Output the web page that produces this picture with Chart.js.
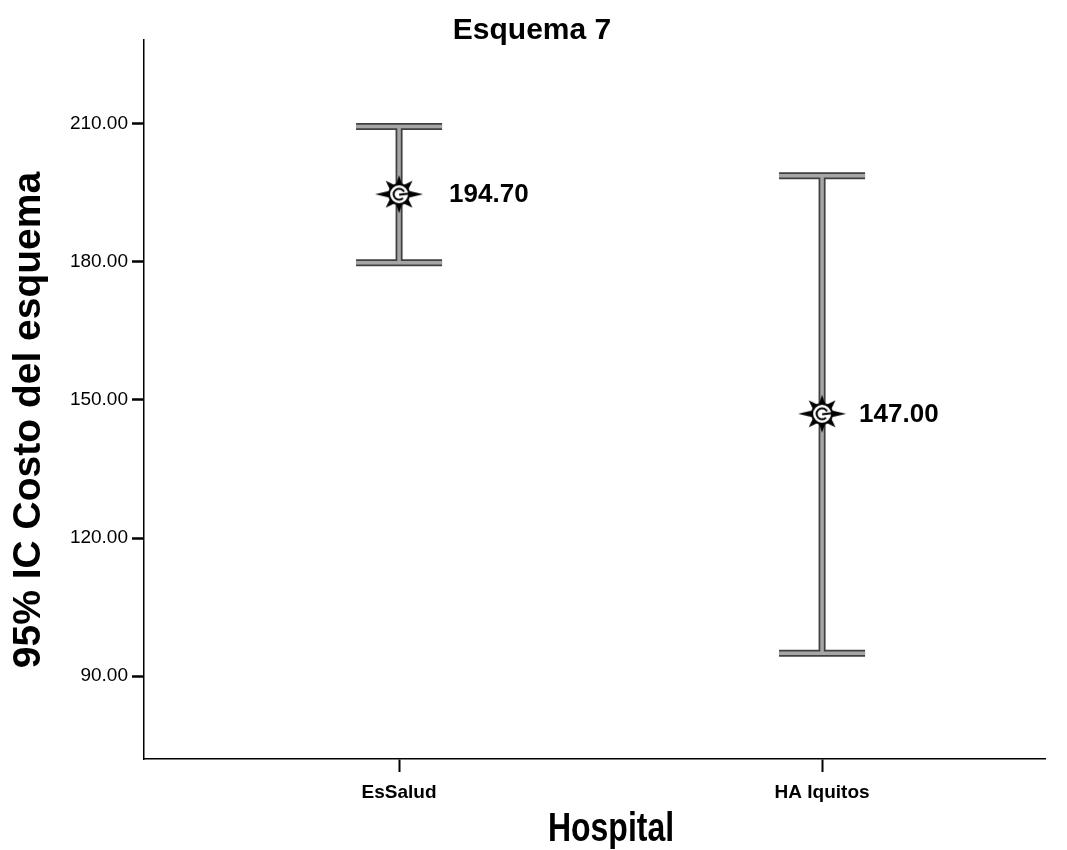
<!DOCTYPE html>
<html>
<head>
<meta charset="utf-8">
<script src="https://cdn.jsdelivr.net/npm/chart.js@4.4.1/dist/chart.umd.min.js"></script>
<style>
  html, body { margin: 0; padding: 0; background: #fff; }
  #wrap { width: 1067px; height: 850px; }
</style>
</head>
<body>
<div id="wrap"><canvas id="myChart" width="1067" height="850"></canvas></div>
<script>
// data
const categories = ["EsSalud", "HA Iquitos"]
const means = [194.70, 147.00]
const lowerCI = [179.8, 95.0]
const upperCI = [209.4, 198.7]
const yTicks = [90, 120, 150, 180, 210]

const chartTitle = "Esquema 7"
const yTitle = "95% IC Costo del esquema"
const xTitle = "Hospital"

const sans = '"Liberation Sans", Arial, sans-serif'

// starburst marker like the SPSS one
function makeMarker(){
    const c = document.createElement("canvas")
    c.width = 52
    c.height = 44
    const g = c.getContext("2d")
    const cx = 26, cy = 22
    g.fillStyle = "#000"
    for (let i = 0; i < 8; i++){
        const a = i * Math.PI / 4
        const len = (i % 4 == 0) ? 24 : 19
        const w = 0.42
        g.beginPath()
        g.moveTo(cx + Math.cos(a) * len, cy + Math.sin(a) * len)
        g.lineTo(cx + Math.cos(a + w) * 9, cy + Math.sin(a + w) * 9)
        g.lineTo(cx + Math.cos(a - w) * 9, cy + Math.sin(a - w) * 9)
        g.closePath()
        g.fill()
    }
    g.beginPath()
    g.arc(cx, cy, 10, 0, Math.PI * 2)
    g.fillStyle = "#fff"
    g.fill()
    g.lineWidth = 2
    g.strokeStyle = "#000"
    g.stroke()
    g.beginPath()
    g.arc(cx, cy, 5.5, 0.25 * Math.PI, 1.85 * Math.PI, false)
    g.lineWidth = 2
    g.stroke()
    g.beginPath()
    g.moveTo(cx, cy + 0.5)
    g.lineTo(cx + 13, cy - 1)
    g.stroke()
    return c
}

const errorBars = {
    id: "errorBars",
    beforeDatasetsDraw(chart){
        const {ctx, scales: {x, y}} = chart
        ctx.save()
        categories.forEach((cat, i) => {
            const px = x.getPixelForValue(i + 1)
            const top = y.getPixelForValue(upperCI[i])
            const bot = y.getPixelForValue(lowerCI[i])
            const half = 43
            // outer dark stroke then lighter core
            ;[["#404040", 7], ["#a6a6a6", 3.5]].forEach(([col, w]) => {
                ctx.strokeStyle = col
                ctx.lineWidth = w
                ctx.lineCap = "butt"
                ctx.beginPath()
                ctx.moveTo(px, top)
                ctx.lineTo(px, bot)
                ctx.moveTo(px - half, top)
                ctx.lineTo(px + half, top)
                ctx.moveTo(px - half, bot)
                ctx.lineTo(px + half, bot)
                ctx.stroke()
            })
        })
        ctx.restore()
    },
    afterDraw(chart){
        const {ctx, scales: {x, y}} = chart
        const labelGap = [50, 37]
        ctx.save()
        ctx.fillStyle = "#000"
        ctx.textBaseline = "middle"
        // value labels
        ctx.font = "bold 26px " + sans
        ctx.textAlign = "left"
        means.forEach((m, i) => {
            ctx.fillText(m.toFixed(2), x.getPixelForValue(i + 1) + labelGap[i], y.getPixelForValue(m) + 1)
        })
        // chart title
        ctx.textAlign = "center"
        ctx.font = "bold 30px " + sans
        ctx.fillText(chartTitle, 532, 31)
        // x title, squeezed like Arial Narrow
        ctx.save()
        ctx.translate(611, 830)
        ctx.scale(0.8, 1)
        ctx.font = "bold 40px " + sans
        ctx.fillText(xTitle, 0, 0)
        ctx.restore()
        // y title
        ctx.translate(29, 420)
        ctx.rotate(-Math.PI / 2)
        ctx.font = "bold 39px " + sans
        ctx.fillText(yTitle, 0, 0)
        ctx.restore()
    }
}

const ctx = document.getElementById("myChart")

let grafik = new Chart(ctx, {
    type: "scatter",
    data: {
        datasets: [{
            data: means.map((m, i) => ({x: i + 1, y: m})),
            pointStyle: makeMarker(),
            showLine: false
        }]
    },
    options: {
        responsive: false,
        animation: false,
        layout: {padding: {top: 40, right: 22, left: 0, bottom: 0}},
        plugins: {
            legend: {display: false},
            tooltip: {enabled: false}
        },
        scales: {
            x: {
                type: "linear",
                min: 0.397,
                max: 2.527,
                afterBuildTicks: s => { s.ticks = categories.map((c, i) => ({value: i + 1})) },
                afterFit: s => { s.height = 91 },
                ticks: {
                    callback: v => categories[v - 1],
                    color: "#000",
                    font: {family: sans, size: 19, weight: "bold"},
                    padding: 9,
                    maxRotation: 0
                },
                grid: {
                    drawOnChartArea: false,
                    tickLength: 13,
                    tickWidth: 2,
                    tickColor: "#000"
                },
                border: {color: "#000", width: 1.5}
            },
            y: {
                min: 72,
                max: 228.2,
                afterBuildTicks: s => { s.ticks = yTicks.map(v => ({value: v})) },
                afterFit: s => { s.width = 144 },
                ticks: {
                    callback: v => v.toFixed(2),
                    color: "#000",
                    font: {family: sans, size: 19},
                    padding: 4
                },
                grid: {
                    drawOnChartArea: false,
                    tickLength: 12,
                    tickWidth: 2.5,
                    tickColor: "#000"
                },
                border: {color: "#000", width: 1.5}
            }
        }
    },
    plugins: [errorBars]
})
</script>
</body>
</html>
